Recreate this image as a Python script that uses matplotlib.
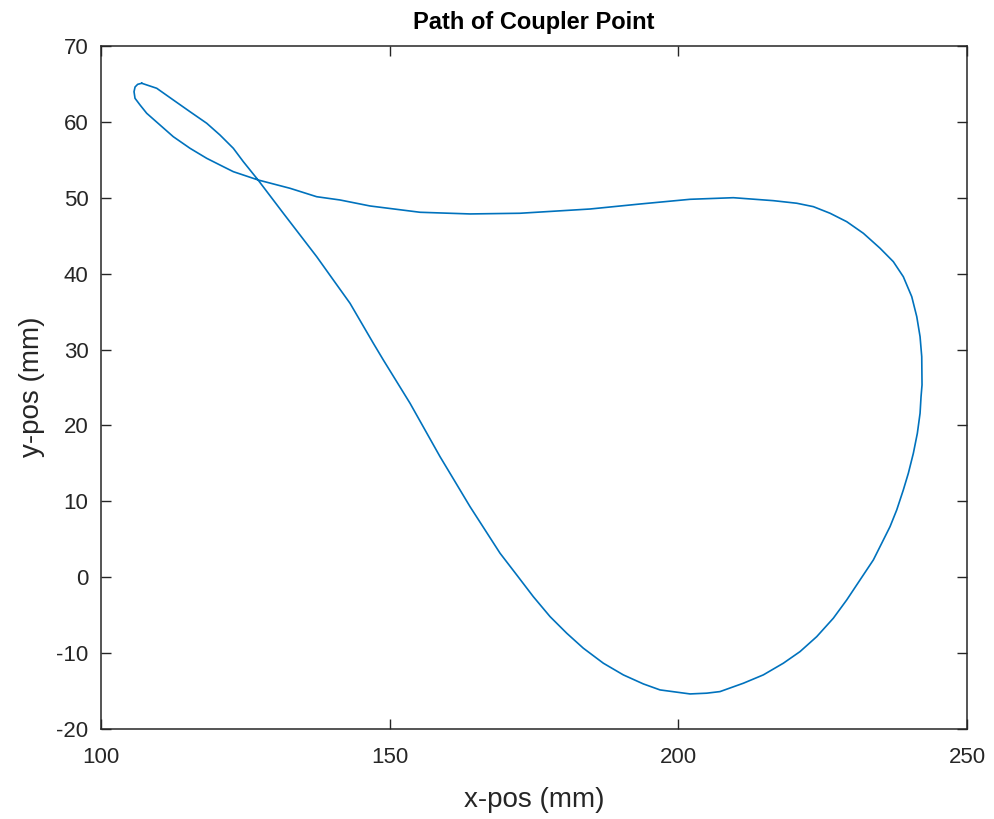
import matplotlib
matplotlib.use("Agg")
import matplotlib.pyplot as plt

# Coupler point path (mm), in drawing order
x_pos = [107.05, 109.65, 112.52, 115.42, 118.31, 120.61, 122.92, 124.65, 127.20,
         131.58, 134.47, 137.36, 140.24, 143.13, 147.17, 148.90, 151.22, 153.53,
         156.12, 158.72, 161.32, 163.92, 166.52, 169.12, 172.01, 174.88, 177.78,
         180.67, 183.54, 187.01, 190.47, 193.94, 196.83, 202.03, 204.92, 207.22,
         211.26, 214.72, 218.19, 221.08, 223.97, 226.85, 229.17, 231.47, 233.78,
         235.23, 236.67, 237.83, 238.97, 239.84, 240.71, 241.40, 241.87, 242.04,
         242.21, 242.16, 241.87, 241.30, 240.43, 238.97, 237.24, 234.94, 232.05,
         229.17, 226.28, 223.39, 220.51, 216.46, 209.53, 202.03, 193.37, 184.70,
         172.58, 163.92, 155.26, 146.60, 141.40, 137.36, 132.74, 127.20, 122.92,
         121.18, 118.31, 115.42, 112.52, 110.22, 107.92, 106.76, 105.89, 105.72,
         105.90, 106.35, 107.05]
y_pos = [65.09, 64.43, 62.89, 61.34, 59.82, 58.27, 56.52, 54.76, 52.35,
         47.96, 45.10, 42.24, 39.17, 36.10, 30.83, 28.63, 25.77, 22.92,
         19.41, 15.89, 12.60, 9.30, 6.23, 3.16, 0.30, -2.56, -5.19,
         -7.38, -9.35, -11.33, -12.87, -14.06, -14.85, -15.38, -15.28, -15.07,
         -13.97, -12.87, -11.33, -9.80, -7.83, -5.40, -2.99, -0.36, 2.28,
         4.48, 6.67, 8.87, 11.50, 13.70, 16.34, 18.97, 21.61, 23.79,
         25.34, 29.06, 31.70, 34.33, 36.97, 39.60, 41.58, 43.35, 45.32,
         46.85, 47.96, 48.83, 49.28, 49.62, 50.01, 49.80, 49.18, 48.52,
         47.96, 47.87, 48.09, 48.92, 49.71, 50.14, 51.25, 52.35, 53.44,
         54.10, 55.20, 56.52, 58.05, 59.59, 61.13, 62.23, 63.11, 63.98,
         64.60, 64.95, 65.09]

x_ticks = [100, 150, 200, 250]
y_ticks = [-20, -10, 0, 10, 20, 30, 40, 50, 60, 70]

plt.rcParams['font.family'] = ['Liberation Sans', 'DejaVu Sans']
plt.rcParams['axes.unicode_minus'] = False
dark = '#262626'

fig = plt.figure(figsize=(9.95, 8.19), dpi=100)
ax = fig.add_axes([101/995, 1-729/819, (967-101)/995, (729-46)/819])
ax.plot(x_pos, y_pos, color='#0072BD', linewidth=1.2)

ax.set_xlim(100, 250)
ax.set_ylim(-20, 70)
ax.set_xticks(x_ticks)
ax.set_yticks(y_ticks)
ax.tick_params(direction='in', top=True, right=True, length=7, width=1,
               colors=dark, labelsize=16)
ax.tick_params(axis='x', pad=13)
ax.tick_params(axis='y', pad=9)
for s in ax.spines.values():
    s.set_color(dark)
    s.set_linewidth(1.1)

ax.set_title('Path of Coupler Point', fontsize=17, fontweight='bold', color='black', pad=12)
ax.set_xlabel('x-pos (mm)', fontsize=20, color=dark, va='center')
ax.set_ylabel('y-pos (mm)', fontsize=20, color=dark, va='center')
ax.xaxis.set_label_coords((534-101)/866, (729-800)/683)
ax.yaxis.set_label_coords((32-101)/866, (729-387)/683)

fig.savefig('out.png', dpi=100, facecolor='white')
